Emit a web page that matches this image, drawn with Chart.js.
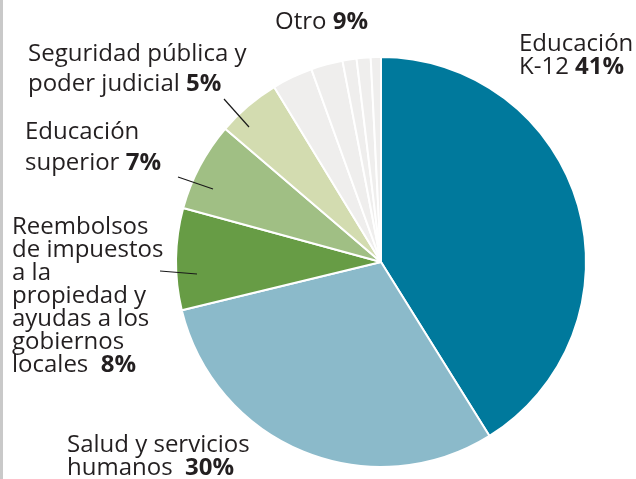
<!DOCTYPE html>
<html>
<head>
<meta charset="utf-8">
<script src="https://cdn.jsdelivr.net/npm/chart.js@4"></script>
<style>
    html, body { margin: 0; padding: 0; background: #fff; }
    #budgetChart { display: block; }
</style>
</head>
<body>
<canvas id="budgetChart" width="636" height="479"></canvas>
<script>
const categories = [
    'Educación K-12',
    'Salud y servicios humanos',
    'Reembolsos de impuestos a la propiedad y ayudas a los gobiernos locales',
    'Educación superior',
    'Seguridad pública y poder judicial',
    'Otro', 'Otro', 'Otro', 'Otro', 'Otro',
];
const shares = [41, 30, 8, 7, 5, 3.2, 2.5, 1.1, 1.1, 0.8];
const otherFrom = 5;

const sliceColors = ['#00799c', '#8bbaca', '#679c45', '#a0bf84', '#d3dcb0', '#efeeed', '#efeeed', '#efeeed', '#efeeed', '#efeeed'];
const textFont = "'Open Sans', sans-serif";
const textColor = '#231f20';

const pct = (v) => Math.round(v) + '%';
const otherTotal = shares.slice(otherFrom).reduce((a, b) => a + b, 0);

// text pieces: [normal lines..., last line normal part], bold pct appended to last line
const labels = [
    { lines: ['Educación', 'K-12 '], bold: pct(shares[0]), x: 519, y: 51, lh: 23 },
    { lines: ['Salud y servicios', 'humanos  '], bold: pct(shares[1]), x: 67, y: 452, lh: 23 },
    { lines: ['Reembolsos', 'de impuestos', 'a la', 'propiedad y', 'ayudas a los', 'gobiernos', 'locales  '], bold: pct(shares[2]), x: 12, y: 234, lh: 23, line: [160, 271, 197, 274] },
    { lines: ['Educación', 'superior '], bold: pct(shares[3]), x: 25, y: 139, lh: 31, line: [178, 177, 213, 189] },
    { lines: ['Seguridad pública y', 'poder judicial '], bold: pct(shares[4]), x: 28, y: 61, lh: 30, line: [224, 99, 249, 127] },
    { lines: ['Otro '], bold: pct(otherTotal), x: 275, y: 29, lh: 23 },
];

const labelPlugin = {
    id: 'sliceLabels',
    beforeDraw(chart) {
        const ctx = chart.ctx;
        ctx.save();
        ctx.fillStyle = '#c9c9c9';
        ctx.fillRect(0, 0, 3, chart.height);
        ctx.restore();
    },
    afterDraw(chart) {
        const ctx = chart.ctx;
        ctx.save();
        ctx.fillStyle = textColor;
        ctx.textBaseline = 'alphabetic';
        ctx.textAlign = 'left';
        labels.forEach((lab) => {
            lab.lines.forEach((txt, i) => {
                const y = lab.y + i * lab.lh;
                ctx.font = `400 24px ${textFont}`;
                ctx.fillText(txt, lab.x, y);
                if (i === lab.lines.length - 1) {
                    const w = ctx.measureText(txt).width;
                    ctx.font = `700 24px ${textFont}`;
                    ctx.fillText(lab.bold, lab.x + w, y);
                }
            });
            if (lab.line) {
                ctx.strokeStyle = '#1a1a1a';
                ctx.lineWidth = 1.2;
                ctx.beginPath();
                ctx.moveTo(lab.line[0], lab.line[1]);
                ctx.lineTo(lab.line[2], lab.line[3]);
                ctx.stroke();
            }
        });
        ctx.restore();
    },
};

new Chart(document.getElementById('budgetChart'), {
    type: 'pie',
    data: {
        labels: categories,
        datasets: [{
            data: shares,
            backgroundColor: sliceColors,
            borderColor: '#ffffff',
            borderWidth: 2,
        }],
    },
    options: {
        responsive: false,
        animation: false,
        layout: { padding: { left: 175, right: 49, top: 56, bottom: 11 } },
        plugins: {
            legend: { display: false },
            tooltip: { enabled: false },
        },
    },
    plugins: [labelPlugin],
});
</script>
</body>
</html>
